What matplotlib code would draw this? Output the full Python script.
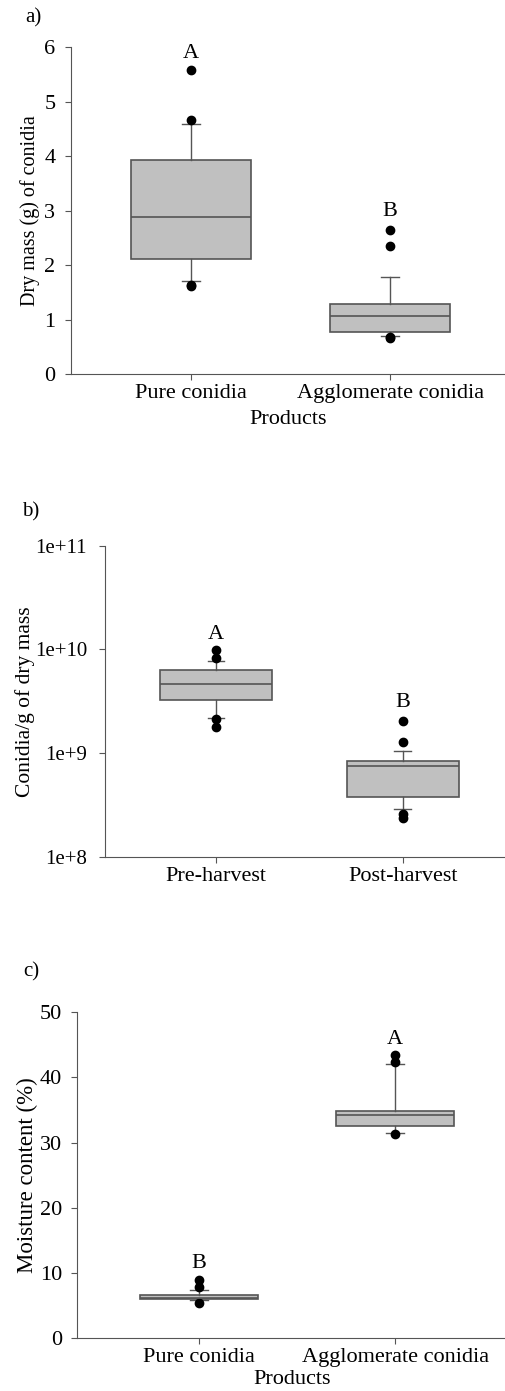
import matplotlib
matplotlib.use("Agg")
import matplotlib.pyplot as plt

plt.rcParams['font.family'] = ['Liberation Serif', 'DejaVu Serif']

# panel a - dry mass (g) of conidia
a_labels = ['Pure conidia', 'Agglomerate conidia']
a_q1 = [2.12, 0.78]
a_med = [2.88, 1.07]
a_q3 = [3.93, 1.29]
a_lo = [1.70, 0.70]
a_hi = [4.60, 1.78]
a_fliers = [[1.62, 1.64, 4.66, 5.59], [0.67, 0.68, 2.35, 2.65]]
a_letters = ['A', 'B']
a_letter_y = [5.89, 2.99]

# panel b - conidia/g of dry mass
b_labels = ['Pre-harvest', 'Post-harvest']
b_q1 = [3.27e9, 3.79e8]
b_med = [4.63e9, 7.5e8]
b_q3 = [6.3e9, 8.37e8]
b_lo = [2.16e9, 2.86e8]
b_hi = [7.7e9, 1.05e9]
b_fliers = [[1.77e9, 2.13e9, 8.3e9, 9.86e9], [2.38e8, 2.56e8, 1.29e9, 2.02e9]]
b_letters = ['A', 'B']
b_letter_y = [1.4e10, 3.1e9]
b_ticks = [1e8, 1e9, 1e10, 1e11]
b_ticklabels = ['1e+8', '1e+9', '1e+10', '1e+11']

# panel c - moisture content (%)
c_labels = ['Pure conidia', 'Agglomerate conidia']
c_q1 = [5.89, 32.5]
c_med = [6.15, 34.2]
c_q3 = [6.61, 34.9]
c_lo = [5.79, 31.5]
c_hi = [7.33, 42.1]
c_fliers = [[5.28, 7.74, 8.86], [31.3, 42.4, 43.5]]
c_letters = ['B', 'A']
c_letter_y = [11.4, 45.9]

EDGE = '#555555'
FILL = '#c0c0c0'


def draw_panel(ax, q1, med, q3, lo, hi, fliers, labels, letters, letter_y):
    stats = []
    for i in range(len(labels)):
        stats.append(dict(q1=q1[i], med=med[i], q3=q3[i], whislo=lo[i],
                          whishi=hi[i], fliers=fliers[i], label=labels[i]))
    ax.bxp(stats, positions=[1, 2], widths=0.6, patch_artist=True,
           boxprops=dict(facecolor=FILL, edgecolor=EDGE, linewidth=1.2),
           medianprops=dict(color=EDGE, linewidth=1.2),
           whiskerprops=dict(color=EDGE, linewidth=1.0),
           capprops=dict(color=EDGE, linewidth=1.0),
           capwidths=0.09,
           flierprops=dict(marker='o', markerfacecolor='black',
                           markeredgecolor='black', markersize=6))
    for i, t in enumerate(letters):
        ax.text(i + 1, letter_y[i], t, ha='center', va='center', fontsize=16)
    for s in ['top', 'right']:
        ax.spines[s].set_visible(False)
    for s in ['left', 'bottom']:
        ax.spines[s].set_color(EDGE)
    ax.tick_params(colors=EDGE, labelcolor='black', length=4, labelsize=16)
    ax.tick_params(axis='y', pad=7)


fig = plt.figure(figsize=(5.06, 13.91), dpi=100)

ax1 = fig.add_axes([0.1397, 0.7311, 0.8603, 0.2349])
draw_panel(ax1, a_q1, a_med, a_q3, a_lo, a_hi, a_fliers, a_labels, a_letters, a_letter_y)
ax1.set_ylim(0, 6)
ax1.set_xlim(0.398, 2.58)
ax1.set_ylabel('Dry mass (g) of conidia', fontsize=14.5, labelpad=3)
ax1.set_xlabel('Products', fontsize=16, labelpad=5)
fig.text(25 / 506, 1 - 17.5 / 1391, 'a)', fontsize=15, va='center')

ax2 = fig.add_axes([0.2075, 0.3841, 0.7925, 0.2236])
draw_panel(ax2, b_q1, b_med, b_q3, b_lo, b_hi, b_fliers, b_labels, b_letters, b_letter_y)
ax2.set_yscale('log')
ax2.set_ylim(1e8, 1e11)
ax2.set_yticks(b_ticks)
ax2.set_yticklabels(b_ticklabels)
ax2.minorticks_off()
ax2.tick_params(axis='y', labelsize=15, pad=9)
ax2.set_xlim(0.405, 2.553)
ax2.set_ylabel('Conidia/g of dry mass', fontsize=15.5, labelpad=0)
fig.text(22 / 506, 1 - 512 / 1391, 'b)', fontsize=15, va='center')

ax3 = fig.add_axes([0.1528, 0.0383, 0.8472, 0.2339])
draw_panel(ax3, c_q1, c_med, c_q3, c_lo, c_hi, c_fliers, c_labels, c_letters, c_letter_y)
ax3.set_ylim(0, 50)
ax3.set_xlim(0.379, 2.565)
ax3.set_ylabel('Moisture content (%)', fontsize=16.5, labelpad=1)
ax3.set_xlabel('Products', fontsize=16, labelpad=2)
fig.text(23 / 506, 1 - 972 / 1391, 'c)', fontsize=15, va='center')

fig.savefig('out.png', dpi=100)
